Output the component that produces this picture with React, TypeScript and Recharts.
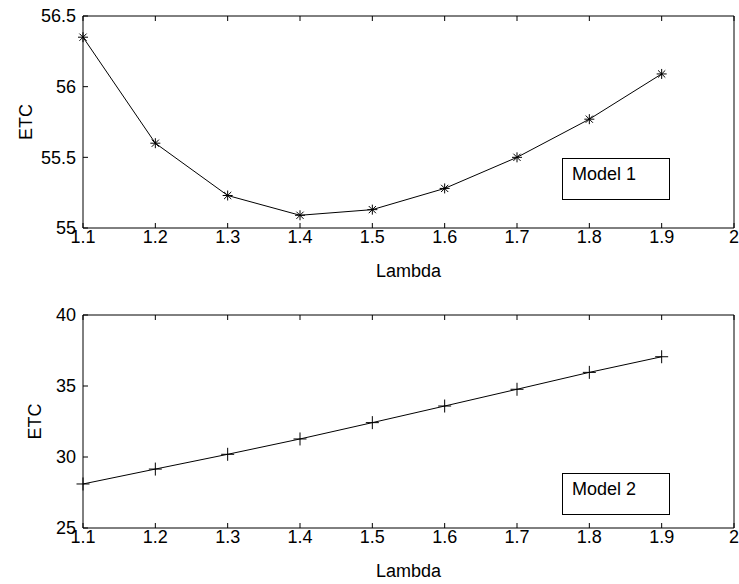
import { LineChart, Line, XAxis, YAxis, Legend } from "recharts";

// data
const lambda = [1.1, 1.2, 1.3, 1.4, 1.5, 1.6, 1.7, 1.8, 1.9];
const etcModel1 = [56.35, 55.6, 55.23, 55.09, 55.13, 55.28, 55.5, 55.77, 56.09];
const etcModel2 = [28.1, 29.15, 30.19, 31.27, 32.42, 33.59, 34.77, 35.96, 37.06];

const xTicks = [1.1, 1.2, 1.3, 1.4, 1.5, 1.6, 1.7, 1.8, 1.9, 2];
const yTicksModel1 = [55, 55.5, 56, 56.5];
const yTicksModel2 = [25, 30, 35, 40];

const FONT = '"Liberation Sans", Arial, Helvetica, sans-serif';
const tickStyle = { fontSize: 18, fill: "#000", fontFamily: FONT };
const axisStroke = { stroke: "#000", strokeWidth: 1 };

const fmt = (v: number) => String(Number(v.toFixed(1)));

// asterisk marker (model 1)
const Star = (props: any) => {
  const { cx, cy, index } = props;
  if (cx == null || cy == null) return <g key={index} />;
  const r = 5;
  const d = 3.6;
  return (
    <g key={index} stroke="#000" strokeWidth={1}>
      <line x1={cx - r} y1={cy} x2={cx + r} y2={cy} />
      <line x1={cx} y1={cy - r} x2={cx} y2={cy + r} />
      <line x1={cx - d} y1={cy - d} x2={cx + d} y2={cy + d} />
      <line x1={cx - d} y1={cy + d} x2={cx + d} y2={cy - d} />
    </g>
  );
};

// plus marker (model 2)
const Plus = (props: any) => {
  const { cx, cy, index } = props;
  if (cx == null || cy == null) return <g key={index} />;
  const r = 6.5;
  return (
    <g key={index} stroke="#000" strokeWidth={1}>
      <line x1={cx - r} y1={cy} x2={cx + r} y2={cy} />
      <line x1={cx} y1={cy - r} x2={cx} y2={cy + r} />
    </g>
  );
};

interface PanelProps {
  values: number[];
  name: string;
  yTicks: number[];
  marker: (p: any) => any;
  marginTop: number;
  marginBottom: number;
  ylabelX: number;
  legendTop: number;
}

function Panel({ values, name, yTicks, marker, marginTop, marginBottom, ylabelX, legendTop }: PanelProps) {
  const data = lambda.map((x, i) => ({ lambda: x, etc: values[i] }));
  const yDomain = [yTicks[0], yTicks[yTicks.length - 1]];

  return (
    <LineChart width={739} height={292} data={data} margin={{ top: marginTop, right: 4, left: 0, bottom: marginBottom }}>
      {/* bottom axis with labels */}
      <XAxis
        xAxisId="b"
        dataKey="lambda"
        type="number"
        domain={[1.1, 2]}
        ticks={xTicks}
        interval={0}
        tickFormatter={fmt}
        tickSize={-5}
        tickMargin={7}
        height={50}
        tick={tickStyle}
        axisLine={axisStroke}
        tickLine={axisStroke}
        label={{ value: "Lambda", position: "insideBottom", offset: 1, fontSize: 18, fill: "#000", fontFamily: FONT }}
      />
      {/* top frame with tick marks only */}
      <XAxis
        xAxisId="t"
        orientation="top"
        dataKey="lambda"
        type="number"
        domain={[1.1, 2]}
        ticks={xTicks}
        interval={0}
        tickFormatter={() => ""}
        tickSize={-5}
        height={1}
        axisLine={axisStroke}
        tickLine={axisStroke}
      />
      <YAxis
        yAxisId="l"
        type="number"
        domain={yDomain}
        ticks={yTicks}
        interval={0}
        tickFormatter={(v: number) => String(v)}
        tickSize={-5}
        tickMargin={12}
        width={83}
        tick={tickStyle}
        axisLine={axisStroke}
        tickLine={axisStroke}
        label={{
          content: (p: any) => {
            const vb = p.viewBox;
            const cy = vb.y + vb.height / 2;
            return (
              <text x={ylabelX} y={cy} transform={`rotate(-90 ${ylabelX} ${cy})`} textAnchor="middle" fontSize={18} fill="#000" fontFamily={FONT}>
                ETC
              </text>
            );
          },
        }}
      />
      {/* right frame with tick marks only */}
      <YAxis
        yAxisId="r"
        orientation="right"
        type="number"
        domain={yDomain}
        ticks={yTicks}
        interval={0}
        tickFormatter={() => ""}
        tickSize={-5}
        width={1}
        axisLine={axisStroke}
        tickLine={axisStroke}
      />
      <Legend
        verticalAlign="middle"
        align="center"
        wrapperStyle={{ left: 562, top: legendTop, width: 108, height: 42 }}
        content={(p: any) => (
          <div
            style={{
              boxSizing: "border-box",
              width: 108,
              height: 42,
              border: "1px solid #000",
              background: "#fff",
              paddingLeft: 9,
              paddingTop: 5,
              fontSize: 18,
              fontFamily: FONT,
              color: "#000",
              textAlign: "left",
            }}
          >
            {p.payload && p.payload[0] ? p.payload[0].value : name}
          </div>
        )}
      />
      <Line
        xAxisId="b"
        yAxisId="l"
        type="linear"
        dataKey="etc"
        name={name}
        stroke="#000"
        strokeWidth={1}
        dot={marker}
        activeDot={false}
        isAnimationActive={false}
      />
    </LineChart>
  );
}

export default function App() {
  return (
    <div style={{ position: "absolute", left: 0, top: 0, width: 739, height: 584, background: "#fff" }}>
      <div style={{ position: "absolute", left: 0, top: 0 }}>
        <Panel values={etcModel1} name="Model 1" yTicks={yTicksModel1} marker={Star} marginTop={15} marginBottom={14} ylabelX={32} legendTop={158} />
      </div>
      <div style={{ position: "absolute", left: 0, top: 292 }}>
        <Panel values={etcModel2} name="Model 2" yTicks={yTicksModel2} marker={Plus} marginTop={22} marginBottom={6} ylabelX={41} legendTop={181} />
      </div>
    </div>
  );
}
